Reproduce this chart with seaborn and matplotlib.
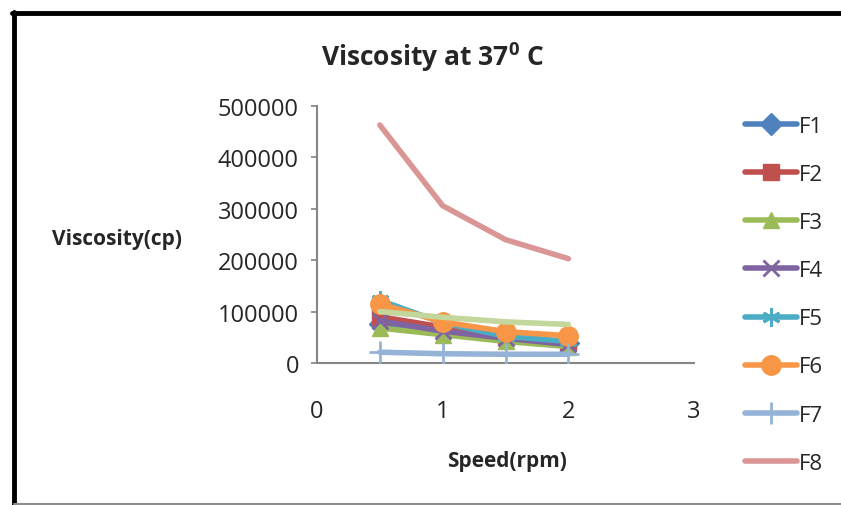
import matplotlib
matplotlib.use("Agg")
import matplotlib.pyplot as plt
import seaborn as sns
import pandas as pd
from matplotlib.lines import Line2D

speed = [0.5, 1.0, 1.5, 2.0]
F1 = [75000, 60000, 48000, 38000]
F2 = [90000, 70000, 52000, 40000]
F3 = [68000, 55000, 42000, 32000]
F4 = [82000, 62000, 48000, 36000]
F5 = [122000, 78000, 52000, 42000]
F6 = [115000, 80000, 61000, 53000]
F7 = [21000, 18000, 17000, 17000]
F8 = [463000, 306000, 240000, 203000]
F9 = [100000, 89000, 80000, 75000]

names = ["F1", "F2", "F3", "F4", "F5", "F6", "F7", "F8", "F9"]
values = [F1, F2, F3, F4, F5, F6, F7, F8, F9]
colors = ["#4F81BD", "#C0504D", "#9BBB59", "#8064A2", "#4BACC6",
          "#F79646", "#95B3D7", "#D99694", "#C3D69B"]
markers = ["D", "s", "^", "x", (6, 2, 0), "o", "+", None, None]
msizes = [11, 11, 12, 11, 13, 14, 16, 0, 0]

sns.set_theme(style="white")
FONT = 'Open Sans'
plt.rcParams['font.family'] = [FONT, 'DejaVu Sans']
plt.rcParams['mathtext.fontset'] = 'custom'
plt.rcParams['mathtext.rm'] = FONT + ':bold'
plt.rcParams['mathtext.bf'] = FONT + ':bold'

fig = plt.figure(figsize=(8.41, 5.06), dpi=100)
ax = fig.add_axes([317/841, 1-364/506, (694-317)/841, (364-107)/506])

df = pd.DataFrame({"speed": speed * len(names),
                   "visc": sum(values, []),
                   "series": [n for n in names for _ in speed]})

handles = []
for i, n in enumerate(names):
    sub = df[df.series == n]
    mk = markers[i]
    kw = {}
    if mk is not None:
        kw = dict(marker=mk, markersize=msizes[i], markeredgecolor=colors[i],
                  markerfacecolor=colors[i],
                  markeredgewidth=2 if mk in ("x", "+") or isinstance(mk, tuple) else 1)
    sns.lineplot(data=sub, x="speed", y="visc", color=colors[i], linewidth=4,
                 ax=ax, legend=False, zorder=2 + i, **kw)
    if n != "F9":
        handles.append(Line2D([], [], color=colors[i], linewidth=4, label=n, **kw))

ax.set_xlim(0, 3)
ax.set_ylim(0, 500000)
ax.set_xticks([0, 1, 2, 3])
ax.set_yticks([0, 100000, 200000, 300000, 400000, 500000])
ax.set_xticklabels(["0", "1", "2", "3"])
ax.set_yticklabels(["0", "100000", "200000", "300000", "400000", "500000"])
ax.set_xlabel("")
ax.set_ylabel("")
for s in ["top", "right"]:
    ax.spines[s].set_visible(False)
for s in ["left", "bottom"]:
    ax.spines[s].set_color("#868686")
    ax.spines[s].set_linewidth(1.5)
ax.tick_params(axis="y", labelsize=17, length=4, color="#868686", pad=9, left=True)
ax.tick_params(axis="x", labelsize=17, length=0, pad=26)

fig.text(433/841, 1-57/506, "Viscosity at 37$^{0}$ C", ha="center", va="center",
         fontsize=19, fontweight="bold")
fig.text(507/841, 1-462/506, "Speed(rpm)", ha="center", va="center",
         fontsize=15, fontweight="bold")
fig.text(117/841, 1-240/506, "Viscosity(cp)", ha="center", va="center",
         fontsize=15, fontweight="bold")

leg = fig.legend(handles=handles, loc="upper left", bbox_to_anchor=(736/841, 1-108/506),
                 frameon=False, fontsize=16, handlelength=2.35, labelspacing=1.22,
                 handletextpad=0.1, borderaxespad=0)

# outer chart frame
fig.add_artist(Line2D([14/841, 14/841], [0, 1-13/506], transform=fig.transFigure,
                      color="black", linewidth=3.5))
fig.add_artist(Line2D([12/841, 1], [1-14/506, 1-14/506], transform=fig.transFigure,
                      color="black", linewidth=3.5))
fig.add_artist(Line2D([14/841, 1], [1.5/506, 1.5/506], transform=fig.transFigure,
                      color="#8c8c8c", linewidth=1.5))

fig.savefig("out.png", dpi=100)
